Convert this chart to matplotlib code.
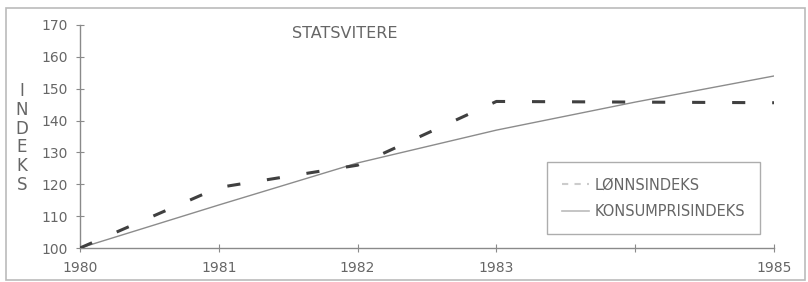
import matplotlib
matplotlib.use("Agg")
import matplotlib.pyplot as plt
from matplotlib.lines import Line2D
from matplotlib.patches import Rectangle

years = [1980, 1981, 1982, 1983, 1984, 1985]
year_labels = ["1980", "1981", "1982", "1983", "", "1985"]
lonnsindeks = [100, 119, 126, 146, 145.8, 145.6]
konsumprisindeks = [100, 113.5, 126.7, 137, 145.8, 154]
y_ticks = [100, 110, 120, 130, 140, 150, 160, 170]

W, H = 808, 282
fig = plt.figure(figsize=(W / 100, H / 100), dpi=100)
ax = fig.add_axes([80 / W, 34 / H, (774 - 80) / W, (257 - 34) / H])

txt = "#666666"
axc = "#8a8a8a"

# frame around whole figure
fig.patches.append(Rectangle((6 / W, 2 / H), (805 - 6) / W, (274 - 2) / H,
                             transform=fig.transFigure, fill=False,
                             edgecolor="#bbbbbb", linewidth=1.2))

ax.plot(years, konsumprisindeks, color="#8c8c8c", linewidth=1.0, zorder=2)
dl, = ax.plot(years, lonnsindeks, color="#404040", linewidth=2.2, zorder=3)
dl.set_dashes((4.3, 8.8))

ax.set_xlim(1980, 1985)
ax.set_ylim(100, 170)
ax.set_xticks(years)
ax.set_xticklabels(year_labels)
ax.set_yticks(y_ticks)
ax.set_yticklabels([str(v) for v in y_ticks])

for s in ["top", "right"]:
    ax.spines[s].set_visible(False)
for s in ["left", "bottom"]:
    ax.spines[s].set_color(axc)
    ax.spines[s].set_linewidth(1.0)

ax.tick_params(axis="y", direction="inout", length=6, width=0.8, color=axc,
               labelcolor=txt, labelsize=10, pad=6)
ax.tick_params(axis="x", direction="inout", length=6, width=0.8, color=axc,
               labelcolor=txt, labelsize=10, pad=6)

# vertical y label
fig.text(22 / W, 1 - 138 / H, "\n".join("INDEKS"), ha="center", va="center",
         color=txt, fontsize=12, linespacing=1.05)

# title
fig.text(292 / W, 1 - 34 / H, "STATSVITERE", ha="left", va="center",
         color=txt, fontsize=11.5)

handles = [Line2D([0], [0], color="#cccccc", linewidth=1.5, dashes=(3, 3)),
           Line2D([0], [0], color="#bbbbbb", linewidth=1.2)]
leg = fig.legend(handles, ["LØNNSINDEKS", "KONSUMPRISINDEKS"],
                 loc="upper left", bbox_to_anchor=(547 / W, 1 - 162 / H),
                 bbox_transform=fig.transFigure, frameon=True, fancybox=False,
                 edgecolor="#999999", fontsize=10.5, labelcolor=txt,
                 handlelength=1.8, handletextpad=0.4, borderpad=1.05,
                 labelspacing=0.8, borderaxespad=0)
leg.get_frame().set_linewidth(1.0)

fig.savefig("out.png", dpi=100)
